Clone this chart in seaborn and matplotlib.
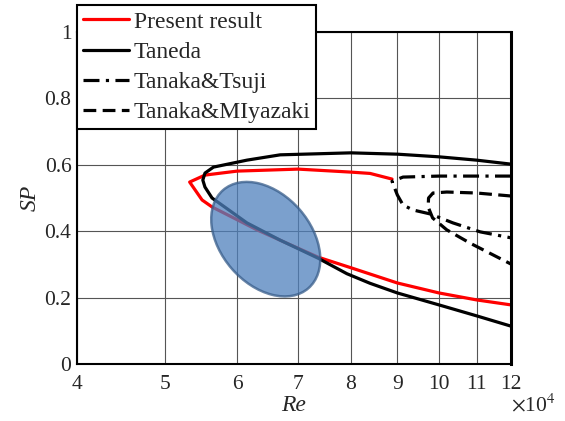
import numpy as np
import pandas as pd
import seaborn as sns
import matplotlib.pyplot as plt
from matplotlib.patches import Ellipse
from matplotlib.transforms import ScaledTranslation

# Stability boundaries, Re in units of 1e4
present_re = [8.88, 8.40, 8.0, 7.0, 6.0, 5.53, 5.32, 5.49, 5.63, 6.31, 7.36, 8.0, 9.0, 10.0, 11.0, 12.0]
present_sp = [0.557, 0.574, 0.578, 0.587, 0.581, 0.569, 0.548, 0.494, 0.473, 0.404, 0.322, 0.290, 0.244, 0.214, 0.193, 0.178]

taneda_re = [12.0, 11.0, 10.0, 9.0, 8.0, 6.69, 6.15, 5.65, 5.53, 5.50, 5.53, 5.63, 6.15, 6.69, 7.36, 7.92, 8.40, 9.0, 10.0, 11.0, 12.0]
taneda_sp = [0.602, 0.614, 0.624, 0.632, 0.636, 0.630, 0.614, 0.593, 0.575, 0.554, 0.533, 0.500, 0.425, 0.373, 0.319, 0.272, 0.243, 0.214, 0.178, 0.145, 0.114]

tsuji_re = [12.0, 11.0, 10.0, 9.13, 8.88, 9.0, 9.13, 9.36, 9.78, 10.36, 11.1, 12.0]
tsuji_sp = [0.566, 0.566, 0.566, 0.563, 0.550, 0.509, 0.479, 0.464, 0.452, 0.425, 0.398, 0.380]

miyazaki_re = [12.0, 11.0, 10.2, 9.85, 9.74, 9.73, 9.84, 10.2, 10.82, 12.0]
miyazaki_sp = [0.506, 0.515, 0.518, 0.515, 0.500, 0.473, 0.440, 0.404, 0.364, 0.301]

x_ticks = [4, 5, 6, 7, 8, 9, 10, 11, 12]
y_ticks = [0, 0.2, 0.4, 0.6, 0.8, 1.0]
y_labels = ["0", "0.2", "0.4", "0.6", "0.8", "1"]

sns.set_style("white")
plt.rcParams['font.family'] = ['Liberation Serif', 'DejaVu Serif']
plt.rcParams['mathtext.fontset'] = 'stix'

fig = plt.figure(figsize=(5.65, 4.21), dpi=100)
ax = fig.add_axes([0.1363, 0.1354, 0.7681, 0.7886])

sns.lineplot(x=present_re, y=present_sp, sort=False, estimator=None, color='red', lw=2.3, ax=ax, label='Present result')
sns.lineplot(x=taneda_re, y=taneda_sp, sort=False, estimator=None, color='black', lw=2.3, ax=ax, label='Taneda')
sns.lineplot(x=tsuji_re, y=tsuji_sp, sort=False, estimator=None, color='black', lw=2.3, ax=ax, label='Tanaka&Tsuji')
sns.lineplot(x=miyazaki_re, y=miyazaki_sp, sort=False, estimator=None, color='black', lw=2.3, ax=ax, label='Tanaka&MIyazaki')
ax.lines[2].set_dashes([5, 2, 1, 2])
ax.lines[3].set_dashes([4, 2])

ax.set_xscale('log')
ax.set_xlim(4, 12)
ax.set_ylim(0, 1)
ax.set_xticks(x_ticks)
ax.set_xticklabels([str(t) for t in x_ticks])
ax.xaxis.set_minor_locator(plt.NullLocator())
ax.set_yticks(y_ticks)
ax.set_yticklabels(y_labels)
ax.tick_params(labelsize=15.5, direction='in', length=3)
ax.tick_params(axis='x', pad=8)
ax.tick_params(axis='y', pad=4)
ax.grid(True, color='#555555', lw=0.8)

for side in ['left', 'bottom', 'right', 'top']:
    ax.spines[side].set_visible(True)
    ax.spines[side].set_color('black')
    ax.spines[side].set_linewidth(1.5)
ax.spines['right'].set_linewidth(2.2)

ax.set_xlabel('Re', fontsize=17, style='italic', labelpad=1)
ax.set_ylabel('SP', fontsize=17, style='italic', labelpad=3)
ax.text(1.0, -0.09, r'$\times$10$^4$', transform=ax.transAxes, fontsize=15.5, ha='left', va='top')

# shaded region
trans = fig.dpi_scale_trans + ScaledTranslation(6.45, 0.376, ax.transData)
ell = Ellipse((0, 0), width=1.30, height=0.90, angle=-49, transform=trans,
              facecolor='#4f81bd', alpha=0.75, edgecolor='#385d8a', lw=1.8, zorder=5)
ax.add_patch(ell)

leg = ax.legend(loc='upper left', bbox_to_anchor=(0.0, 1.081), borderaxespad=0,
                fontsize=17, frameon=True, fancybox=False, framealpha=1,
                handlelength=1.95, handletextpad=0.2, labelspacing=0.37, borderpad=0.25)
leg.get_frame().set_edgecolor('black')
leg.get_frame().set_linewidth(1.5)
leg.set_zorder(10)

fig.savefig('out.png', dpi=100)
